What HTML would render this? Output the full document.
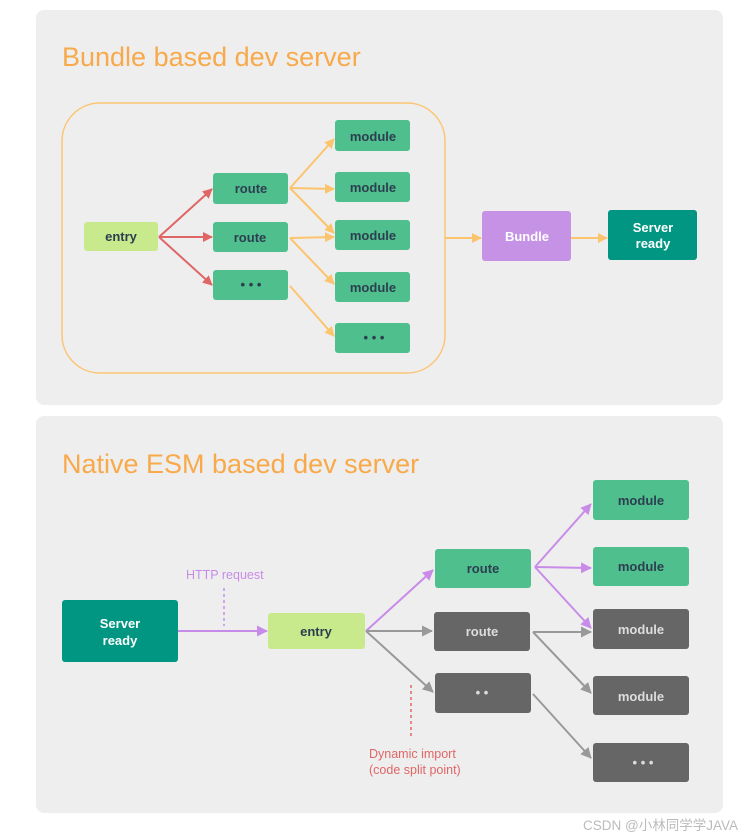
<!DOCTYPE html>
<html><head><meta charset="utf-8"><style>
html,body{margin:0;padding:0;background:#fff;width:754px;height:838px;overflow:hidden}
svg{display:block}
text{font-family:"Liberation Sans","Noto Sans CJK SC",sans-serif}
.b{font-size:13px;font-weight:bold;text-anchor:middle}
</style></head><body>
<svg width="754" height="838" viewBox="0 0 754 838">
<defs>
<marker id="ar" markerWidth="10" markerHeight="10" refX="9" refY="5" orient="auto" markerUnits="userSpaceOnUse"><path d="M0,0 L10,5 L0,10z" fill="#e06666"/></marker>
<marker id="ao" markerWidth="10" markerHeight="10" refX="9" refY="5" orient="auto" markerUnits="userSpaceOnUse"><path d="M0,0 L10,5 L0,10z" fill="#fcc46e"/></marker>
<marker id="ap" markerWidth="11" markerHeight="11" refX="10" refY="5.5" orient="auto" markerUnits="userSpaceOnUse"><path d="M0,0 L11,5.5 L0,11z" fill="#c88ce8"/></marker>
<marker id="ag" markerWidth="11" markerHeight="11" refX="10" refY="5.5" orient="auto" markerUnits="userSpaceOnUse"><path d="M0,0 L11,5.5 L0,11z" fill="#999"/></marker>
</defs>
<rect x="36" y="10" width="687" height="395" rx="8" fill="#eeeeee"/>
<rect x="36" y="416" width="687" height="397" rx="8" fill="#eeeeee"/>
<text x="62" y="66" font-size="27" fill="#f8a94a">Bundle based dev server</text>
<text x="62" y="473" font-size="27" fill="#f8a94a">Native ESM based dev server</text>
<rect x="62" y="103" width="383" height="270" rx="38" fill="none" stroke="#fcc574" stroke-width="1.5"/>
<g stroke-width="2" fill="none">
<path d="M159,237 L212,189" stroke="#e06666" marker-end="url(#ar)"/>
<path d="M159,237 L212,237" stroke="#e06666" marker-end="url(#ar)"/>
<path d="M159,237 L212,285" stroke="#e06666" marker-end="url(#ar)"/>
<g stroke="#fcc46e" marker-end="url(#ao)">
<path d="M290,188 L334,139"/><path d="M290,188 L334,189"/><path d="M290,188 L334,233"/>
<path d="M290,238 L334,237"/><path d="M290,238 L334,284"/>
<path d="M290,286 L334,336"/>
<path d="M445,238 L481,238"/><path d="M571,238 L607,238"/>
</g>
<g stroke="#c88ce8" marker-end="url(#ap)">
<path d="M178,631 L267,631"/>
<path d="M366,631 L433,570"/>
<path d="M535,567 L591,504"/><path d="M535,567 L591,568"/><path d="M535,567 L591,628"/>
</g>
<g stroke="#999" marker-end="url(#ag)">
<path d="M366,631 L432,631"/><path d="M366,631 L433,692"/>
<path d="M533,632 L591,632"/><path d="M533,632 L591,693"/>
<path d="M533,694 L591,758"/>
</g>
<path d="M224,588 L224,626" stroke="#c88ce8" stroke-width="1.5" stroke-dasharray="3,3"/>
<path d="M411,685 L411,738" stroke="#e06666" stroke-width="1.5" stroke-dasharray="3,3"/>
</g>
<g>
<rect x="84" y="222" width="74" height="29" rx="3" fill="#c8e98c"/><text x="121" y="241" class="b" fill="#2c3e50" font-weight="normal">entry</text>
<g fill="#4fc08d">
<rect x="213" y="173" width="75" height="31" rx="3"/><rect x="213" y="222" width="75" height="30" rx="3"/><rect x="213" y="270" width="75" height="30" rx="3"/>
<rect x="335" y="120" width="75" height="31" rx="3"/><rect x="335" y="172" width="75" height="30" rx="3"/><rect x="335" y="220" width="75" height="30" rx="3"/><rect x="335" y="272" width="75" height="30" rx="3"/><rect x="335" y="323" width="75" height="30" rx="3"/>
</g>
<g fill="#2c3e50" class="b">
<text x="251" y="193" class="b" font-weight="normal">route</text><text x="250" y="242" class="b" font-weight="normal">route</text><text x="251" y="289" class="b">• • •</text>
<text x="373" y="141" class="b" font-weight="normal">module</text><text x="373" y="192" class="b" font-weight="normal">module</text><text x="373" y="240" class="b" font-weight="normal">module</text><text x="373" y="292" class="b" font-weight="normal">module</text><text x="374" y="342" class="b">• • •</text>
</g>
<rect x="482" y="211" width="89" height="50" rx="3" fill="#c592e6"/><text x="527" y="241" class="b" fill="#fff">Bundle</text>
<rect x="608" y="210" width="89" height="50" rx="3" fill="#009682"/><text x="653" y="232" class="b" fill="#fff">Server</text><text x="653" y="248" class="b" fill="#fff">ready</text>
<rect x="62" y="600" width="116" height="62" rx="3" fill="#009682"/><text x="120" y="628" class="b" fill="#fff">Server</text><text x="120" y="645" class="b" fill="#fff">ready</text>
<rect x="268" y="613" width="97" height="36" rx="3" fill="#c8e98c"/><text x="316" y="636" class="b" fill="#2c3e50" font-weight="normal">entry</text>
<rect x="435" y="549" width="96" height="39" rx="3" fill="#4fc08d"/><text x="483" y="573" class="b" fill="#2c3e50" font-weight="normal">route</text>
<rect x="434" y="612" width="96" height="39" rx="3" fill="#666"/><text x="482" y="636" class="b" fill="#ddd" font-weight="normal">route</text>
<rect x="435" y="673" width="96" height="40" rx="3" fill="#666"/><text x="482" y="697" class="b" fill="#ddd">• •</text>
<rect x="593" y="480" width="96" height="40" rx="3" fill="#4fc08d"/><text x="641" y="505" class="b" fill="#2c3e50" font-weight="normal">module</text>
<rect x="593" y="547" width="96" height="39" rx="3" fill="#4fc08d"/><text x="641" y="571" class="b" fill="#2c3e50" font-weight="normal">module</text>
<rect x="593" y="609" width="96" height="40" rx="3" fill="#666"/><text x="641" y="634" class="b" fill="#ddd" font-weight="normal">module</text>
<rect x="593" y="676" width="96" height="39" rx="3" fill="#666"/><text x="641" y="701" class="b" fill="#ddd" font-weight="normal">module</text>
<rect x="593" y="743" width="96" height="39" rx="3" fill="#666"/><text x="643" y="767" class="b" fill="#ddd">• • •</text>
</g>
<text x="186" y="579" font-size="12.5" fill="#c88ce8">HTTP request</text>
<text x="369" y="758" font-size="12.5" fill="#e06666">Dynamic import</text>
<text x="369" y="774" font-size="12.5" fill="#e06666">(code split point)</text>
<text x="583" y="830" font-size="13.5" fill="#bbb">CSDN @小林同学学JAVA</text>
</svg>
</body></html>
